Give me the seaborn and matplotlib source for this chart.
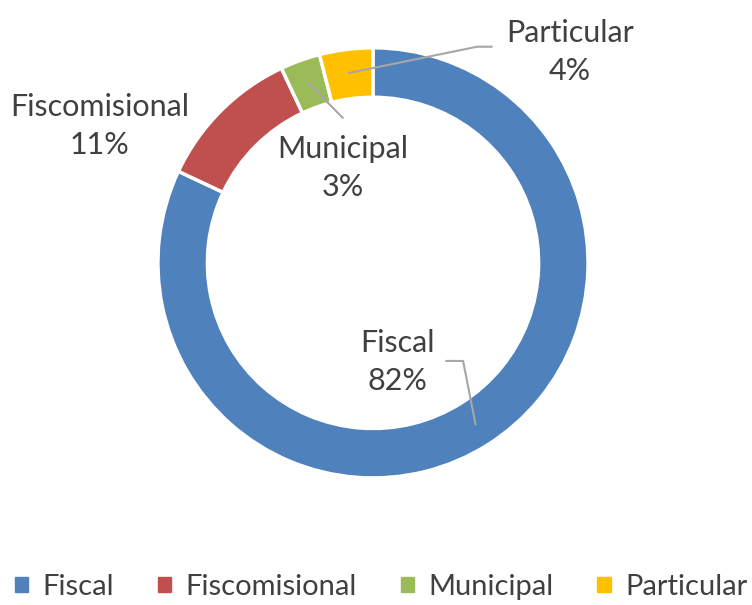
import matplotlib
matplotlib.use("Agg")
import matplotlib.pyplot as plt
import seaborn as sns
import numpy as np

# Data
categories = ["Fiscal", "Fiscomisional", "Municipal", "Particular"]
shares = [82, 11, 3, 4]
colors = ["#4F81BD", "#C0504D", "#9BBB59", "#FFC000"]

sns.set_theme(style="white")
plt.rcParams["font.family"] = ["Lato", "DejaVu Sans"]
text_color = "#404040"

fig = plt.figure(figsize=(7.52, 6.05), dpi=100)
ax = fig.add_axes([0.210, 0.210, 0.572, 0.711])

wedges, _ = ax.pie(shares, colors=colors, startangle=90, counterclock=False,
                   radius=1.0, wedgeprops=dict(width=0.23, edgecolor="white", linewidth=2.5))
ax.set_aspect("equal")
ax.set_xlim(-1, 1)
ax.set_ylim(-1, 1)
ax.axis("off")

# label positions (data coords, radius = 1)
label_pos = {
    "Fiscal": (0.112, -0.46),
    "Fiscomisional": (-1.27, 0.635),
    "Municipal": (-0.14, 0.44),
    "Particular": (0.916, 0.98),
}
# leader line bends (None = no leader)
leader_pts = {
    "Fiscal": [(0.419, -0.456), (0.34, -0.456)],
    "Fiscomisional": None,
    "Municipal": [(-0.14, 0.674)],
    "Particular": [(0.484, 1.005), (0.553, 1.005)],
}

for w, cat, val in zip(wedges, categories, shares):
    mid = np.deg2rad((w.theta1 + w.theta2) / 2)
    pts = leader_pts[cat]
    if pts:
        start = (0.89 * np.cos(mid), 0.89 * np.sin(mid))
        xs = [start[0]] + [p[0] for p in pts]
        ys = [start[1]] + [p[1] for p in pts]
        ax.plot(xs, ys, color="#A6A6A6", lw=1.5, clip_on=False)
    x, y = label_pos[cat]
    ax.text(x, y, f"{cat}\n{val}%", ha="center", va="center", fontsize=22,
            color=text_color, linespacing=1.45, clip_on=False)

handles = [plt.Rectangle((0, 0), 1, 1, color=c) for c in colors]
leg = fig.legend(handles, categories, loc="center", bbox_to_anchor=(0.507, 0.03),
                 ncol=4, frameon=False, fontsize=21, handlelength=0.45, handleheight=0.45,
                 handletextpad=0.5, columnspacing=1.5)
for t in leg.get_texts():
    t.set_color(text_color)

fig.savefig("out.png", dpi=100, facecolor="white")
